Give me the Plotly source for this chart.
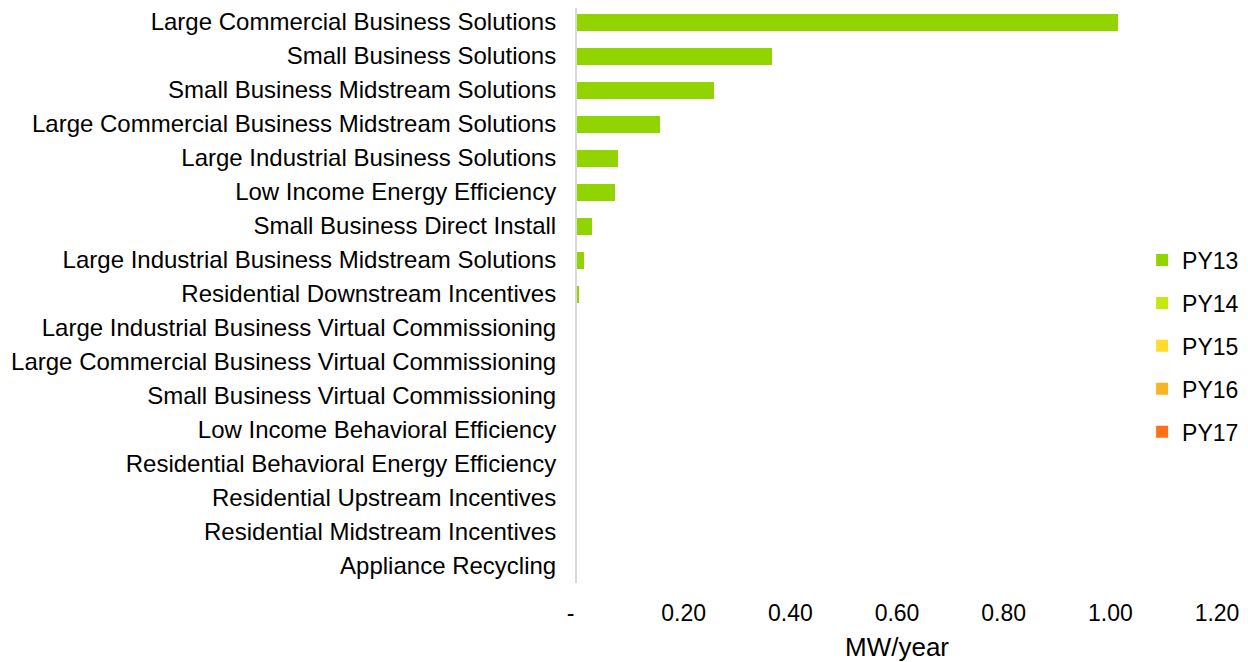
import plotly.graph_objects as go

categories = [
    "Large Commercial Business Solutions",
    "Small Business Solutions",
    "Small Business Midstream Solutions",
    "Large Commercial Business Midstream Solutions",
    "Large Industrial Business Solutions",
    "Low Income Energy Efficiency",
    "Small Business Direct Install",
    "Large Industrial Business Midstream Solutions",
    "Residential Downstream Incentives",
    "Large Industrial Business Virtual Commissioning",
    "Large Commercial Business Virtual Commissioning",
    "Small Business Virtual Commissioning",
    "Low Income Behavioral Efficiency",
    "Residential Behavioral Energy Efficiency",
    "Residential Upstream Incentives",
    "Residential Midstream Incentives",
    "Appliance Recycling",
]

py13 = [1.014, 0.366, 0.257, 0.155, 0.077, 0.071, 0.028, 0.014, 0.004, 0, 0, 0, 0, 0, 0, 0, 0]
py14 = [0] * 17
py15 = [0] * 17
py16 = [0] * 17
py17 = [0] * 17

series_names = ["PY13", "PY14", "PY15", "PY16", "PY17"]
series_values = [py13, py14, py15, py16, py17]
series_colors = ["#92D400", "#C5E80E", "#FDDC2E", "#F8B424", "#FF7119"]

tick_vals = [0, 0.2, 0.4, 0.6, 0.8, 1.0, 1.2]
tick_text = ["-\u00a0\u00a0", "0.20", "0.40", "0.60", "0.80", "1.00", "1.20"]

fig = go.Figure()
for name, vals, col in zip(series_names, series_values, series_colors):
    fig.add_trace(go.Bar(
        y=categories, x=vals, name=name, orientation="h", legendgroup=name,
        marker=dict(color=col, line=dict(width=0)),
    ))

fig.update_layout(
    barmode="stack",
    bargap=0.5,
    width=1240, height=654,
    margin=dict(l=569, r=31, t=0, b=79, autoexpand=False),
    plot_bgcolor="white", paper_bgcolor="white",
    font=dict(family="Liberation Sans, Arial, sans-serif", size=22, color="#000000"),
    legend=dict(x=0.883, y=0.412, xanchor="left", yanchor="middle",
                font=dict(size=23), traceorder="grouped", tracegroupgap=10,
                itemsizing="constant", bgcolor="rgba(0,0,0,0)"),
    xaxis=dict(range=[0, 1.2], tickvals=tick_vals, ticktext=tick_text,
               showgrid=False, zeroline=False, showline=False,
               ticks="", ticklabelstandoff=14,
               tickfont=dict(size=23),
               title=dict(text="MW/year", font=dict(size=26), standoff=13)),
    yaxis=dict(range=[16.5, -0.412], showgrid=False, zeroline=False,
               showline=True, linecolor="#D9D9D9", linewidth=2,
               ticks="", ticklabelstandoff=14, tickfont=dict(size=24)),
)

fig.write_html("out.html")
